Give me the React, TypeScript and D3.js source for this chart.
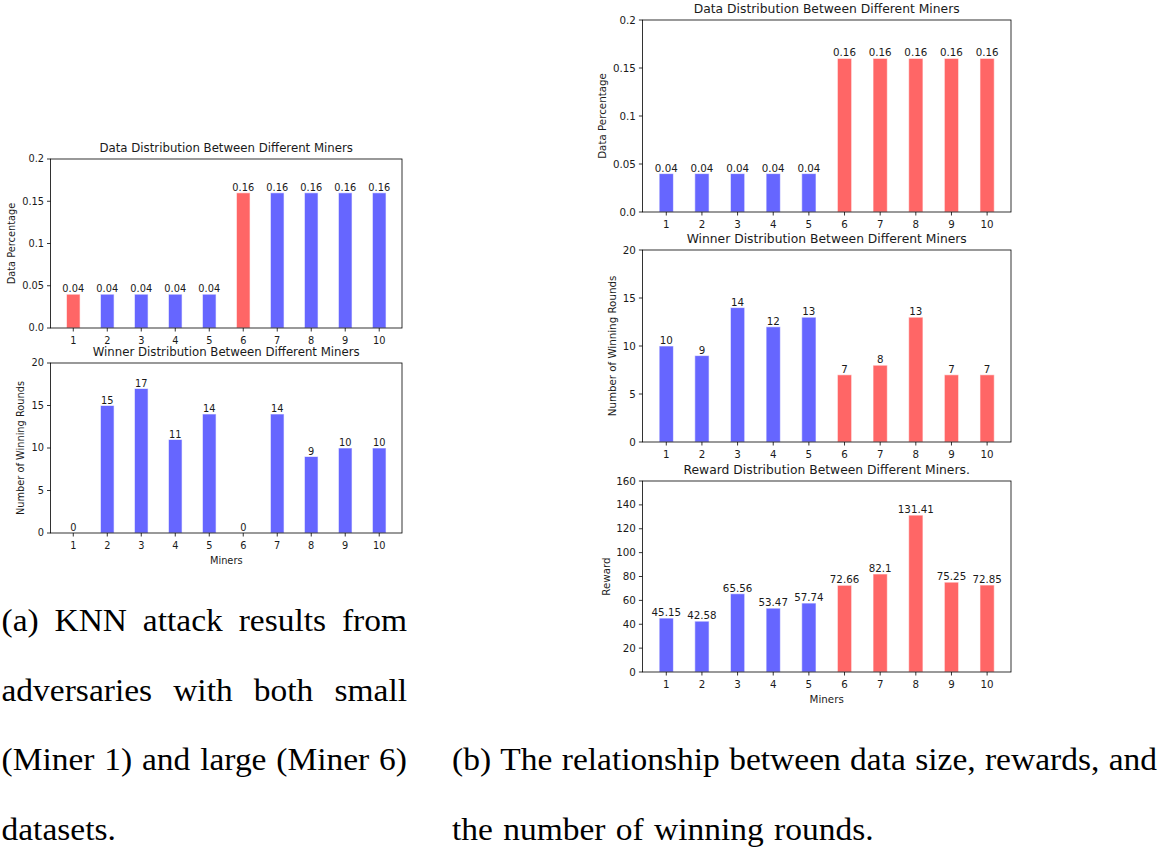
import React, { useEffect, useRef } from "react";
import * as d3 from "d3";

// ---------- data ----------
const miners = [1, 2, 3, 4, 5, 6, 7, 8, 9, 10];

// (a) KNN attack
const knnDataShare = [0.04, 0.04, 0.04, 0.04, 0.04, 0.16, 0.16, 0.16, 0.16, 0.16];
const knnWins = [0, 15, 17, 11, 14, 0, 14, 9, 10, 10];
const knnAdversaries = [1, 6];

// (b) data size vs rewards
const sizeDataShare = [0.04, 0.04, 0.04, 0.04, 0.04, 0.16, 0.16, 0.16, 0.16, 0.16];
const sizeWins = [10, 9, 14, 12, 13, 7, 8, 13, 7, 7];
const sizeRewards = [45.15, 42.58, 65.56, 53.47, 57.74, 72.66, 82.1, 131.41, 75.25, 72.85];
const largeDataMiners = [6, 7, 8, 9, 10];

// ticks
const shareTicks = [0, 0.05, 0.1, 0.15, 0.2];
const shareTickLabels = ["0.0", "0.05", "0.1", "0.15", "0.2"];
const winTicks = [0, 5, 10, 15, 20];
const winTickLabels = ["0", "5", "10", "15", "20"];
const rewardTicks = [0, 20, 40, 60, 80, 100, 120, 140, 160];
const rewardTickLabels = ["0", "20", "40", "60", "80", "100", "120", "140", "160"];

const titleData = "Data Distribution Between Different Miners";
const titleWinner = "Winner Distribution Between Different Miners";
const titleReward = "Reward Distribution Between Different Miners.";
const labelShare = "Data Percentage";
const labelWins = "Number of Winning Rounds";
const labelReward = "Reward";
const labelMiners = "Miners";

const captionA = [
  "(a) KNN attack results from",
  "adversaries with both small",
  "(Miner 1) and large (Miner 6)",
  "datasets.",
];
const captionB = [
  "(b) The relationship between data size, rewards, and",
  "the number of winning rounds.",
];

// ---------- styles ----------
const BLUE = "#6666ff";
const RED = "#ff6666";
const INK = "#1a1a1a";
const SANS = "DejaVu Sans";
const SERIF = "'Liberation Serif', 'Times New Roman', serif";
const BAR_W = 0.4;
const CAP_FS = 31;

type PanelProps = {
  x0: number; x1: number; y0: number; y1: number; s: number;
  values: number[]; highlight: number[];
  ticks: number[]; tickLabels: string[];
  title: string; ylabel: string; ylabelX: number; xlabel?: string;
};

function Panel(p: PanelProps) {
  const lo = d3.min(miners)! - BAR_W / 2;
  const hi = d3.max(miners)! + BAR_W / 2;
  const m = (hi - lo) * 0.05;
  const xs = d3.scaleLinear().domain([lo - m, hi + m]).range([p.x0, p.x1]);
  const ys = d3.scaleLinear().domain([0, d3.max(p.ticks)!]).range([p.y1, p.y0]);
  const tickFs = 9.8 * p.s;
  const titleFs = 11.75 * p.s;
  return (
    <g fontFamily={SANS} fill={INK}>
      <text x={(p.x0 + p.x1) / 2} y={p.y0 - 7} fontSize={titleFs} textAnchor="middle">{p.title}</text>
      {miners.map((mi, i) => {
        const v = p.values[i];
        const bx = xs(mi - BAR_W / 2);
        const bw = xs(mi + BAR_W / 2) - bx;
        const col = p.highlight.includes(mi) ? RED : BLUE;
        return (
          <g key={mi}>
            {v > 0 && (
              <rect x={bx} y={ys(v)} width={bw} height={ys(0) - ys(v)} fill={col}
                stroke="#ffffff" strokeOpacity={0.6} strokeWidth={1} />
            )}
            <text x={xs(mi)} y={ys(v) - 2} fontSize={tickFs} textAnchor="middle">{String(v)}</text>
          </g>
        );
      })}
      <rect x={p.x0} y={p.y0} width={p.x1 - p.x0} height={p.y1 - p.y0} fill="none" stroke="#000" strokeWidth={0.8} />
      {p.ticks.map((t, i) => (
        <g key={"y" + t}>
          <line x1={p.x0 - 3.5} x2={p.x0} y1={ys(t)} y2={ys(t)} stroke="#000" strokeWidth={0.8} />
          <text x={p.x0 - 6.5} y={ys(t)} dy="0.35em" fontSize={tickFs} textAnchor="end">{p.tickLabels[i]}</text>
        </g>
      ))}
      {miners.map((mi) => (
        <g key={"x" + mi}>
          <line x1={xs(mi)} x2={xs(mi)} y1={p.y1} y2={p.y1 + 3.5} stroke="#000" strokeWidth={0.8} />
          <text x={xs(mi)} y={p.y1 + 15.5} fontSize={tickFs} textAnchor="middle">{String(mi)}</text>
        </g>
      ))}
      <text transform={`translate(${p.ylabelX},${(p.y0 + p.y1) / 2}) rotate(-90)`} dy="0.35em"
        fontSize={tickFs} textAnchor="middle">{p.ylabel}</text>
      {p.xlabel && (
        <text x={(p.x0 + p.x1) / 2} y={p.y1 + 30.5} fontSize={tickFs} textAnchor="middle">{p.xlabel}</text>
      )}
    </g>
  );
}

function Caption({ lines, x0, x1, y0, lh }: { lines: string[]; x0: number; x1: number; y0: number; lh: number }) {
  return (
    <g className="caption" data-x0={x0} data-x1={x1} fontFamily={SERIF} fontSize={CAP_FS} fill="#000">
      {lines.map((ln, li) => (
        <g key={li} className="cline" data-last={li === lines.length - 1 ? "1" : "0"}>
          {ln.split(" ").map((w, wi) => (
            <text key={wi} className="cword" x={x0} y={y0 + li * lh}>{w}</text>
          ))}
        </g>
      ))}
    </g>
  );
}

export default function App() {
  const ref = useRef<SVGSVGElement>(null);
  useEffect(() => {
    const svg = d3.select(ref.current);
    const K = 1.08;
    svg.selectAll<SVGGElement, unknown>("g.caption").each(function () {
      const g = this as SVGGElement;
      const x0 = +g.getAttribute("data-x0")!;
      const x1 = +g.getAttribute("data-x1")!;
      d3.select(g).selectAll<SVGGElement, unknown>("g.cline").each(function () {
        const line = this as SVGGElement;
        const words = Array.from(line.querySelectorAll("text.cword")) as SVGTextElement[];
        const widths = words.map((w) => w.getComputedTextLength() * K);
        const total = d3.sum(widths);
        const last = line.getAttribute("data-last") === "1";
        const gap = last || words.length < 2 ? CAP_FS * 0.333 : (x1 - x0 - total) / (words.length - 1);
        let x = x0;
        words.forEach((w, i) => {
          w.setAttribute("x", String(x));
          w.setAttribute("textLength", String(widths[i]));
          w.setAttribute("lengthAdjust", "spacingAndGlyphs");
          x += widths[i] + gap;
        });
      });
    });
  }, []);

  return (
    <svg ref={ref} width={1168} height={850} style={{ position: "absolute", left: 0, top: 0, background: "#fff" }}>
      <Panel x0={50.5} x1={402} y0={159} y1={328} s={1} values={knnDataShare} highlight={knnAdversaries}
        ticks={shareTicks} tickLabels={shareTickLabels} title={titleData} ylabel={labelShare} ylabelX={11.5} />
      <Panel x0={50.5} x1={402} y0={363} y1={533} s={1} values={knnWins} highlight={[]}
        ticks={winTicks} tickLabels={winTickLabels} title={titleWinner} ylabel={labelWins} ylabelX={21} xlabel={labelMiners} />
      <Panel x0={642.4} x1={1011} y0={20} y1={212} s={1.05} values={sizeDataShare} highlight={largeDataMiners}
        ticks={shareTicks} tickLabels={shareTickLabels} title={titleData} ylabel={labelShare} ylabelX={602} />
      <Panel x0={642.4} x1={1011} y0={250} y1={442} s={1.05} values={sizeWins} highlight={largeDataMiners}
        ticks={winTicks} tickLabels={winTickLabels} title={titleWinner} ylabel={labelWins} ylabelX={612} />
      <Panel x0={642.4} x1={1011} y0={481} y1={672} s={1.05} values={sizeRewards} highlight={largeDataMiners}
        ticks={rewardTicks} tickLabels={rewardTickLabels} title={titleReward} ylabel={labelReward} ylabelX={606} xlabel={labelMiners} />
      <Caption lines={captionA} x0={1.5} x1={407} y0={631} lh={69.7} />
      <Caption lines={captionB} x0={452} x1={1157} y0={770} lh={70} />
    </svg>
  );
}
